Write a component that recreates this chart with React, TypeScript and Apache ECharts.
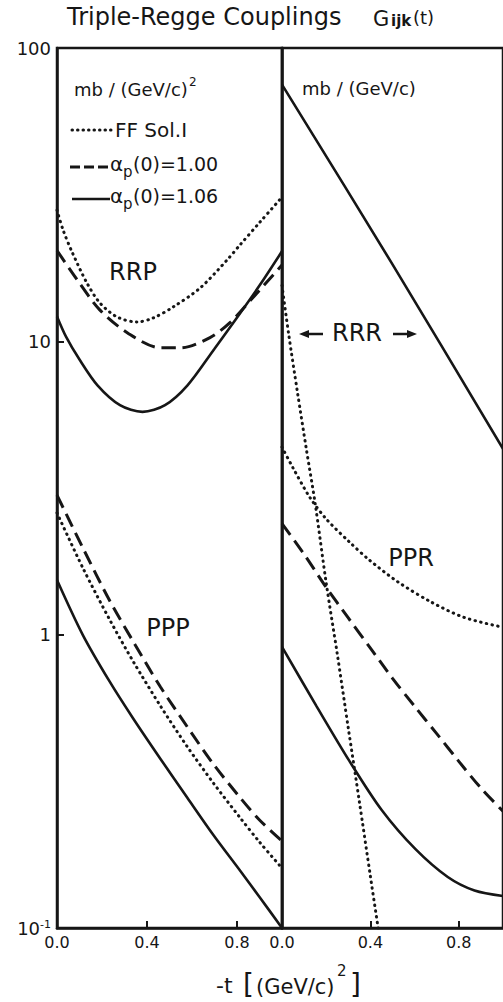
import React, { useEffect, useRef } from 'react';
import * as echarts from 'echarts';

const FONT = '"DejaVu Sans", "Liberation Sans", sans-serif';
const INK = '#161616';

// ---- tick labels ----
const X_TICK_LABELS = ['0.0', '0.4', '0.8'];
const Y_TICK_LABELS = ['10^-1', '1', '10', '100'];

// ---- left panel: RRP couplings, mb/(GeV/c)^2 ----
const RRP_FF_T = [0, 0.027, 0.067, 0.133, 0.191, 0.267, 0.356, 0.427, 0.516, 0.636, 0.756, 0.813, 0.902, 1.0];
const RRP_FF_V = [28.0, 23.96, 20.16, 15.81, 13.51, 12.11, 11.64, 12.01, 13.09, 15.2, 18.94, 21.3, 25.5, 31.0];

const RRP_100_T = [0, 0.09, 0.19, 0.32, 0.46, 0.55, 0.68, 0.77, 0.86, 1.0];
const RRP_100_V = [20.4, 16.2, 12.8, 10.6, 9.5, 9.5, 10.3, 11.6, 13.8, 18.2];

const RRP_106_T = [0, 0.04, 0.1, 0.18, 0.28, 0.38, 0.48, 0.58, 0.7, 0.782, 0.9, 1.0];
const RRP_106_V = [12.16, 10.38, 8.67, 7.08, 6.06, 5.75, 6.06, 7.08, 9.44, 11.53, 15.49, 20.28];

// ---- left panel: PPP couplings ----
const PPP_T = [0, 0.115, 0.235, 0.34, 0.46, 0.58, 0.695, 0.815, 0.9, 1.0];
const PPP_100_V = [2.99, 1.975, 1.302, 0.944, 0.663, 0.484, 0.362, 0.2775, 0.2335, 0.198];
const PPP_FF_V = [2.6, 1.688, 1.122, 0.807, 0.571, 0.414, 0.312, 0.237, 0.1964, 0.16];
const PPP_106_V = [1.536, 0.997, 0.69, 0.516, 0.377, 0.2775, 0.2075, 0.1564, 0.1276, 0.1];

// ---- right panel: RRR couplings, mb/(GeV/c) ----
const RRR_106_T = [0, 0.5, 1.0];
const RRR_106_V = [75, 18.3, 4.3];

const RRR_FF_T = [0, 0.03, 0.07, 0.11, 0.15, 0.2, 0.25, 0.3, 0.35, 0.4, 0.435];
const RRR_FF_V = [15.5, 10.6, 6.7, 4.3, 2.8, 1.5, 0.86, 0.48, 0.27, 0.15, 0.1];

// ---- right panel: PPR couplings ----
const PPR_FF_T = [0, 0.05, 0.125, 0.2, 0.305, 0.395, 0.525, 0.675, 0.825, 1.0];
const PPR_FF_V = [4.36, 3.7, 2.946, 2.48, 2.07, 1.797, 1.512, 1.292, 1.144, 1.06];

const PPR_100_T = [0, 0.1, 0.2, 0.3, 0.4, 0.5, 0.6, 0.7, 0.8, 0.9, 1.0];
const PPR_100_V = [2.39, 1.88, 1.45, 1.14, 0.9, 0.71, 0.57, 0.46, 0.37, 0.3, 0.25];

const PPR_106_T = [0, 0.156, 0.304, 0.451, 0.603, 0.75, 0.871, 1.0];
const PPR_106_V = [0.908, 0.571, 0.372, 0.2525, 0.186, 0.1492, 0.1342, 0.1285];

const pairs = (t: number[], v: number[]) => t.map((x, i) => [x, v[i]]);

const DOTTED = { color: INK, width: 3, type: [0.5, 5.3], cap: 'round' };
const DASHED = { color: INK, width: 3, type: [14, 7], cap: 'butt' };
const SOLID = { color: INK, width: 2.6, type: 'solid' };

function line(name: string, idx: number, t: number[], v: number[], style: any) {
  return {
    name,
    type: 'line',
    xAxisIndex: idx,
    yAxisIndex: idx,
    data: pairs(t, v),
    smooth: 0.3,
    showSymbol: false,
    symbol: 'none',
    lineStyle: style,
    clip: true,
    silent: true,
  };
}

function xAxisCfg(idx: number) {
  return {
    gridIndex: idx,
    type: 'value',
    min: 0,
    max: 1,
    interval: 0.4,
    axisLine: { show: true, lineStyle: { color: INK, width: 2.5 } },
    axisTick: { show: true, inside: true, length: 7, lineStyle: { color: INK, width: 2 } },
    axisLabel: {
      show: true,
      showMaxLabel: false,
      color: INK,
      fontFamily: FONT,
      fontSize: 16,
      margin: 6,
      formatter: (v: number) => X_TICK_LABELS[Math.round(v / 0.4)] ?? '',
    },
    splitLine: { show: false },
  };
}

function yLabel(v: number) {
  const k = Math.round(Math.log10(v)) + 1;
  const s = Y_TICK_LABELS[k] ?? '';
  if (s.includes('^')) {
    const [b, e] = s.split('^');
    return `{a|${b}}{b|${e}}`;
  }
  return `{a|${s}}`;
}

function yAxisCfg(idx: number) {
  return {
    gridIndex: idx,
    type: 'log',
    logBase: 10,
    min: 0.1,
    max: 100,
    axisLine: { show: true, lineStyle: { color: INK, width: 2.5 } },
    axisTick: { show: idx === 0, inside: true, length: 7, lineStyle: { color: INK, width: 2 } },
    axisLabel: {
      show: idx === 0,
      margin: 6,
      formatter: yLabel,
      rich: {
        a: { fontFamily: FONT, fontSize: 18, color: INK },
        b: { fontFamily: FONT, fontSize: 11, color: INK, verticalAlign: 'top' },
      },
    },
    minorTick: { show: false },
    splitLine: { show: false },
  };
}

function txt(text: string, x: number, y: number, size: number, align = 'left', weight = 'normal') {
  return {
    type: 'text',
    x,
    y,
    silent: true,
    style: {
      text,
      font: `${weight} ${size}px ${FONT}`,
      fill: INK,
      align,
      verticalAlign: 'middle',
      textAlign: align,
      textVerticalAlign: 'middle',
    },
  };
}

function seg(x1: number, y1: number, x2: number, y2: number, width: number, dash?: number[], cap = 'butt') {
  return {
    type: 'line',
    silent: true,
    shape: { x1, y1, x2, y2 },
    style: { stroke: INK, lineWidth: width, lineDash: dash ?? null, lineCap: cap },
  };
}

function tri(points: number[][]) {
  return { type: 'polygon', silent: true, shape: { points }, style: { fill: INK } };
}

export default function App() {
  const ref = useRef<HTMLDivElement>(null);

  useEffect(() => {
    if (!ref.current) return;
    const chart = echarts.init(ref.current, null, { renderer: 'svg' });
    chart.setOption({
      animation: false,
      backgroundColor: '#ffffff',
      grid: [
        { left: 57, top: 48, width: 225, height: 880, show: true, borderColor: INK, borderWidth: 2.5, backgroundColor: 'transparent' },
        { left: 282, top: 48, width: 224, height: 880, show: true, borderColor: INK, borderWidth: 2.5, backgroundColor: 'transparent' },
      ],
      xAxis: [xAxisCfg(0), xAxisCfg(1)],
      yAxis: [yAxisCfg(0), yAxisCfg(1)],
      series: [
        line('RRP FF Sol.I', 0, RRP_FF_T, RRP_FF_V, DOTTED),
        line('RRP ap(0)=1.00', 0, RRP_100_T, RRP_100_V, DASHED),
        line('RRP ap(0)=1.06', 0, RRP_106_T, RRP_106_V, SOLID),
        line('PPP FF Sol.I', 0, PPP_T, PPP_FF_V, DOTTED),
        line('PPP ap(0)=1.00', 0, PPP_T, PPP_100_V, DASHED),
        line('PPP ap(0)=1.06', 0, PPP_T, PPP_106_V, SOLID),
        line('RRR ap(0)=1.06', 1, RRR_106_T, RRR_106_V, SOLID),
        line('RRR FF Sol.I', 1, RRR_FF_T, RRR_FF_V, DOTTED),
        line('PPR FF Sol.I', 1, PPR_FF_T, PPR_FF_V, DOTTED),
        line('PPR ap(0)=1.00', 1, PPR_100_T, PPR_100_V, DASHED),
        line('PPR ap(0)=1.06', 1, PPR_106_T, PPR_106_V, SOLID),
      ],
      graphic: [
        // title
        txt('Triple-Regge Couplings', 67, 17, 24),
        txt('G', 373, 19, 21),
        txt('ijk', 391, 21, 15, 'left', 'bold'),
        txt('(t)', 413, 17, 18),
        // units
        txt('mb / (GeV/c)', 74, 89, 18),
        txt('2', 189, 82, 12),
        txt('mb / (GeV/c)', 302, 88, 18),
        // legend
        seg(72, 130, 112, 130, 3, [0.5, 5], 'round'),
        txt('FF Sol.I', 115, 130, 20),
        seg(70, 167, 110, 167, 3, [10, 4]),
        txt('α', 110, 164, 20),
        txt('p', 123, 172, 15),
        txt('(0)=1.00', 133, 164, 19),
        seg(72, 199, 110, 199, 2.6),
        txt('α', 110, 196, 20),
        txt('p', 123, 204, 15),
        txt('(0)=1.06', 133, 196, 19),
        // curve labels
        txt('RRP', 133, 272, 24, 'center'),
        txt('PPP', 168, 628, 24, 'center'),
        txt('RRR', 357, 333, 24, 'center'),
        txt('PPR', 411, 558, 24, 'center'),
        seg(306, 334, 323, 334, 2.5),
        tri([[299, 334], [309, 330], [309, 338]]),
        seg(393, 334, 410, 334, 2.5),
        tri([[417, 334], [407, 330], [407, 338]]),
        // x axis title
        txt('-t', 216, 985, 22),
        txt('[', 243, 984, 28),
        txt('(GeV/c)', 256, 987, 21),
        txt('2', 337, 971, 15),
        txt(']', 350, 984, 28),
      ],
    });
    return () => chart.dispose();
  }, []);

  return (
    <div
      ref={ref}
      style={{ position: 'absolute', left: 0, top: 0, width: 503, height: 1002, background: '#fff' }}
    />
  );
}
